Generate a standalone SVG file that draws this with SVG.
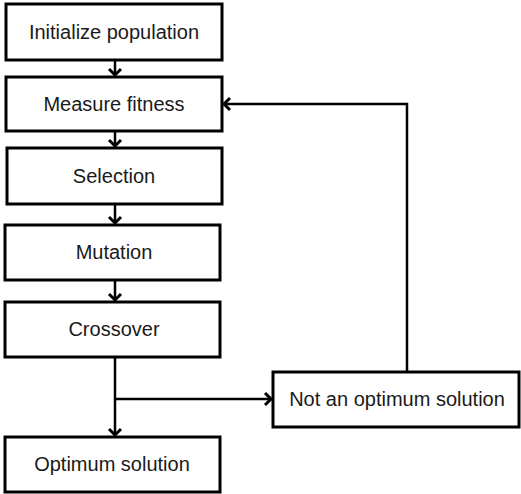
<svg xmlns="http://www.w3.org/2000/svg" width="521" height="494" viewBox="0 0 521 494">
<style>
.box{fill:#fff;stroke:#000;stroke-width:3}
.lbl{font-family:"Liberation Sans",Arial,sans-serif;font-size:20px;fill:#1a1a1a;text-anchor:middle}
.con{fill:none;stroke:#000;stroke-width:2.5}
</style>
<defs>
<marker id="arr" markerUnits="userSpaceOnUse" markerWidth="16" markerHeight="16" viewBox="-8 -8 16 16" refX="0" refY="0" orient="auto">
<path d="M-6,-6 L0,0 L-6,6" fill="none" stroke="#000" stroke-width="3"/>
</marker>
</defs>
<g id="connectors">
<path class="con" d="M115,60 V75" marker-end="url(#arr)"/>
<path class="con" d="M115,131 V146" marker-end="url(#arr)"/>
<path class="con" d="M115,204 V223" marker-end="url(#arr)"/>
<path class="con" d="M115,280 V300" marker-end="url(#arr)"/>
<path class="con" d="M115,357 V435" marker-end="url(#arr)"/>
<path class="con" d="M115,399 H271" marker-end="url(#arr)"/>
<path class="con" d="M407,372 V104 H224" marker-end="url(#arr)"/>
</g>
<g id="init"><rect class="box" x="6" y="4" width="216" height="56"/><text class="lbl" x="114" y="38.5">Initialize population</text></g>
<g id="fitness"><rect class="box" x="6" y="77" width="216" height="54"/><text class="lbl" x="114" y="110.5">Measure fitness</text></g>
<g id="selection"><rect class="box" x="7" y="148" width="215" height="56"/><text class="lbl" x="114" y="182.5">Selection</text></g>
<g id="mutation"><rect class="box" x="5" y="225" width="215" height="55"/><text class="lbl" x="114" y="259">Mutation</text></g>
<g id="crossover"><rect class="box" x="5" y="302" width="215" height="55"/><text class="lbl" x="114" y="336">Crossover</text></g>
<g id="optimum"><rect class="box" x="5" y="437" width="215" height="55"/><text class="lbl" x="112" y="471">Optimum solution</text></g>
<g id="notoptimum"><rect class="box" x="273" y="372" width="246" height="55"/><text class="lbl" x="397" y="406">Not an optimum solution</text></g>
</svg>
